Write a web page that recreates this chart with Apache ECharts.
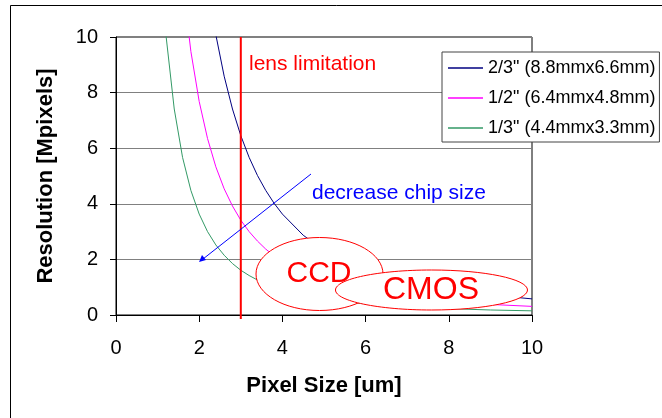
<!DOCTYPE html>
<html>
<head>
<meta charset="utf-8">
<script src="https://cdn.jsdelivr.net/npm/echarts@6/dist/echarts.min.js"></script>
<style>
html,body{margin:0;padding:0;background:#fff;}
#chart{width:662px;height:418px;}
</style>
</head>
<body>
<div id="chart"></div>
<script>
// Data
var seriesNames = ['2/3" (8.8mmx6.6mm)', '1/2" (6.4mmx4.8mm)', '1/3" (4.4mmx3.3mm)'];
var pixel23 = [2.2, 2.4, 2.6, 2.8, 3.0, 3.2, 3.4, 3.6, 3.8, 4.0, 4.5, 5.0, 5.5, 6.0, 7.0, 8.0, 9.0, 10.0];
var res23   = [12.0, 10.08, 8.59, 7.41, 6.45, 5.67, 5.02, 4.48, 4.02, 3.63, 2.87, 2.32, 1.92, 1.61, 1.19, 0.91, 0.72, 0.58];
var pixel12 = [1.6, 1.8, 2.0, 2.2, 2.4, 2.6, 2.8, 3.0, 3.2, 3.4, 3.6, 3.8, 4.0, 4.5, 5.0, 5.5, 6.0, 7.0, 8.0, 9.0, 10.0];
var res12   = [12.0, 9.48, 7.68, 6.35, 5.33, 4.54, 3.92, 3.41, 3.00, 2.66, 2.37, 2.13, 1.92, 1.52, 1.23, 1.02, 0.85, 0.63, 0.48, 0.38, 0.31];
var pixel13 = [1.1, 1.2, 1.4, 1.6, 1.8, 2.0, 2.2, 2.4, 2.6, 2.8, 3.0, 3.2, 3.4, 3.6, 3.8, 4.0, 4.5, 5.0, 5.5, 6.0, 7.0, 8.0, 9.0, 10.0];
var res13   = [12.0, 10.08, 7.41, 5.67, 4.48, 3.63, 3.00, 2.52, 2.15, 1.85, 1.61, 1.42, 1.26, 1.12, 1.01, 0.91, 0.72, 0.58, 0.48, 0.40, 0.30, 0.23, 0.18, 0.15];
var lensLimit = 3;
var xTicks = [0, 2, 4, 6, 8, 10];
var yTicks = [0, 2, 4, 6, 8, 10];

function pairs(xs, ys) { return xs.map(function (x, i) { return [x, ys[i]]; }); }

var FONT = '"Liberation Sans", Arial, sans-serif';
var chart = echarts.init(document.getElementById('chart'), null, {renderer: 'canvas'});
var colors = ['#000080', '#FF00FF', '#339966'];

chart.setOption({
  animation: false,
  backgroundColor: '#fff',
  grid: {left: 116, top: 37, right: 130, bottom: 103, show: true, borderColor: '#000', borderWidth: 1, backgroundColor: 'transparent'},
  xAxis: {
    type: 'value', min: 0, max: 10, interval: 2,
    name: 'Pixel Size [um]', nameLocation: 'middle', nameGap: 60,
    nameTextStyle: {fontFamily: FONT, fontSize: 22, fontWeight: 'bold', color: '#000'},
    axisLine: {show: true, onZero: false, lineStyle: {color: '#000', width: 1}},
    axisTick: {show: true, length: 7, lineStyle: {color: '#000'}},
    axisLabel: {fontFamily: FONT, fontSize: 20, color: '#000', margin: 23},
    splitLine: {show: false}
  },
  yAxis: {
    type: 'value', min: 0, max: 10, interval: 2,
    name: 'Resolution [Mpixels]', nameLocation: 'middle', nameGap: 59,
    nameTextStyle: {fontFamily: FONT, fontSize: 22, fontWeight: 'bold', color: '#000'},
    axisLine: {show: true, onZero: false, lineStyle: {color: '#000', width: 1}},
    axisTick: {show: true, length: 6, lineStyle: {color: '#000'}},
    axisLabel: {fontFamily: FONT, fontSize: 20, color: '#000', margin: 18},
    splitLine: {show: true, lineStyle: {color: '#808080', width: 1}}
  },
  legend: {
    orient: 'vertical', left: 442, top: 52,
    icon: 'rect', itemWidth: 35, itemHeight: 1.5, itemGap: 12,
    padding: [7, 4, 5, 6],
    backgroundColor: '#fff', borderColor: '#444', borderWidth: 1,
    textStyle: {fontFamily: FONT, fontSize: 18, lineHeight: 18, color: '#000'},
    data: seriesNames
  },
  series: [
    {name: seriesNames[0], type: 'line', symbol: 'none', clip: true, data: pairs(pixel23, res23), lineStyle: {color: colors[0], width: 1}, itemStyle: {color: colors[0]}},
    {name: seriesNames[1], type: 'line', symbol: 'none', clip: true, data: pairs(pixel12, res12), lineStyle: {color: colors[1], width: 1}, itemStyle: {color: colors[1]}},
    {name: seriesNames[2], type: 'line', symbol: 'none', clip: true, data: pairs(pixel13, res13), lineStyle: {color: colors[2], width: 1}, itemStyle: {color: colors[2]}}
  ]
});

var top10 = chart.convertToPixel({gridIndex: 0}, [lensLimit, 10]);
var bot0 = chart.convertToPixel({gridIndex: 0}, [lensLimit, 0]);

chart.setOption({
  graphic: [
    {type: 'rect', z: 0, silent: true, shape: {x: 10.5, y: 5.5, width: 800, height: 600}, style: {fill: 'none', stroke: '#000', lineWidth: 1}},
    {type: 'line', z: 20, silent: true, shape: {x1: top10[0], y1: top10[1], x2: bot0[0], y2: bot0[1] + 4}, style: {stroke: '#FF0000', lineWidth: 2}},
    {type: 'text', z: 20, silent: true, style: {x: 249, y: 64, text: 'lens limitation', fill: '#FF0000', font: '21px ' + FONT, verticalAlign: 'middle', align: 'left'}},
    {type: 'text', z: 20, silent: true, style: {x: 312, y: 193, text: 'decrease chip size', fill: '#0000FF', font: '21px ' + FONT, verticalAlign: 'middle', align: 'left'}},
    {type: 'line', z: 20, silent: true, shape: {x1: 311, y1: 174, x2: 203, y2: 259}, style: {stroke: '#0000FF', lineWidth: 1}},
    {type: 'polygon', z: 20, silent: true, shape: {points: [[199, 262], [202, 255], [206, 260]]}, style: {fill: '#0000FF'}},
    {type: 'ellipse', z: 30, silent: true, shape: {cx: 319.5, cy: 274, rx: 63.5, ry: 36.5}, style: {fill: '#fff', stroke: '#FF0000', lineWidth: 1}},
    {type: 'text', z: 31, silent: true, style: {x: 319, y: 274, text: 'CCD', fill: '#FF0000', font: '30px ' + FONT, align: 'center', verticalAlign: 'middle'}},
    {type: 'ellipse', z: 32, silent: true, shape: {cx: 431.5, cy: 290, rx: 96, ry: 20}, style: {fill: '#fff', stroke: '#FF0000', lineWidth: 1}},
    {type: 'text', z: 33, silent: true, style: {x: 431, y: 290, text: 'CMOS', fill: '#FF0000', font: '32px ' + FONT, align: 'center', verticalAlign: 'middle'}}
  ]
});
</script>
</body>
</html>
